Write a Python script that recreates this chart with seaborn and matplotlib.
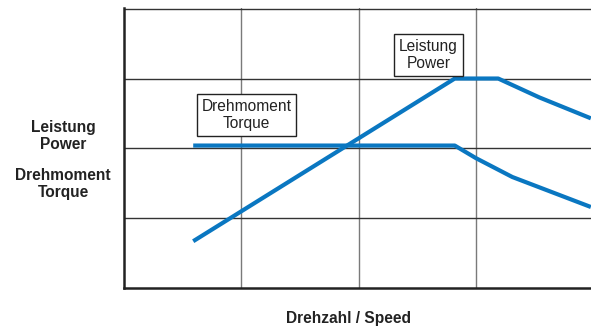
import matplotlib
matplotlib.use("Agg")
import matplotlib.pyplot as plt
import seaborn as sns
import pandas as pd

# Characteristic curves: power and torque over speed (relative units)
speed_power = [0.59, 2.82, 3.19, 3.54, 3.98]
power = [0.67, 3.0, 3.0, 2.73, 2.43]

speed_torque = [0.59, 2.82, 3.0, 3.31, 3.98]
torque = [2.04, 2.04, 1.86, 1.59, 1.16]

sns.set_style("white")
plt.rcParams["font.family"] = ["Liberation Sans", "DejaVu Sans"]

W, H = 591, 329
fig = plt.figure(figsize=(W / 100, H / 100), dpi=100)

x0, x1 = 124, 591
y_bottom, y_top = 288, 8
ax = fig.add_axes([x0 / W, 1 - y_bottom / H, (x1 - x0) / W, (y_bottom - y_top) / H])

df_p = pd.DataFrame({"speed": speed_power, "value": power})
df_t = pd.DataFrame({"speed": speed_torque, "value": torque})

blue = "#0a77c1"
sns.lineplot(data=df_p, x="speed", y="value", ax=ax, color=blue, lw=3.0,
             sort=False, estimator=None, solid_capstyle="butt", zorder=3)
sns.lineplot(data=df_t, x="speed", y="value", ax=ax, color=blue, lw=3.0,
             sort=False, estimator=None, solid_capstyle="butt", zorder=3)

ax.set_xlim(0, (x1 - x0) / 117.3)
ax.set_ylim(0, 4.01)

# grid
for xv in [1, 2, 3]:
    ax.axvline(xv, color="#7a7a7a", lw=1.0, zorder=1)
for yv in [1, 2, 3, 4]:
    ax.axhline(yv, color="#333333", lw=1.0, zorder=1)

ax.set_xticks([])
ax.set_yticks([])
ax.set_xlabel("")
ax.set_ylabel("")
for s in ["top", "right"]:
    ax.spines[s].set_visible(False)
for s in ["left", "bottom"]:
    ax.spines[s].set_color("#222222")
    ax.spines[s].set_linewidth(1.8)

fs = 11.2
box = dict(boxstyle="square,pad=0.3", fc="white", ec="#222222", lw=1.0)
ax.text(1.044, 2.48, "Drehmoment\nTorque", ha="center", va="center",
        fontsize=fs, linespacing=1.2, bbox=box, color="#222222", zorder=4)
ax.text(2.596, 3.336, "Leistung\nPower", ha="center", va="center",
        fontsize=fs, linespacing=1.2, bbox=box, color="#222222", zorder=4)

fig.text(63 / W, 1 - 136 / H, "Leistung\nPower", ha="center", va="center",
         fontsize=fs, fontweight="bold", linespacing=1.2, color="#222222")
fig.text(63 / W, 1 - 184 / H, "Drehmoment\nTorque", ha="center", va="center",
         fontsize=fs, fontweight="bold", linespacing=1.2, color="#222222")
fig.text(349 / W, 1 - 318 / H, "Drehzahl / Speed", ha="center", va="center",
         fontsize=fs, fontweight="bold", color="#222222")

fig.savefig("out.png", dpi=100, facecolor="white")
